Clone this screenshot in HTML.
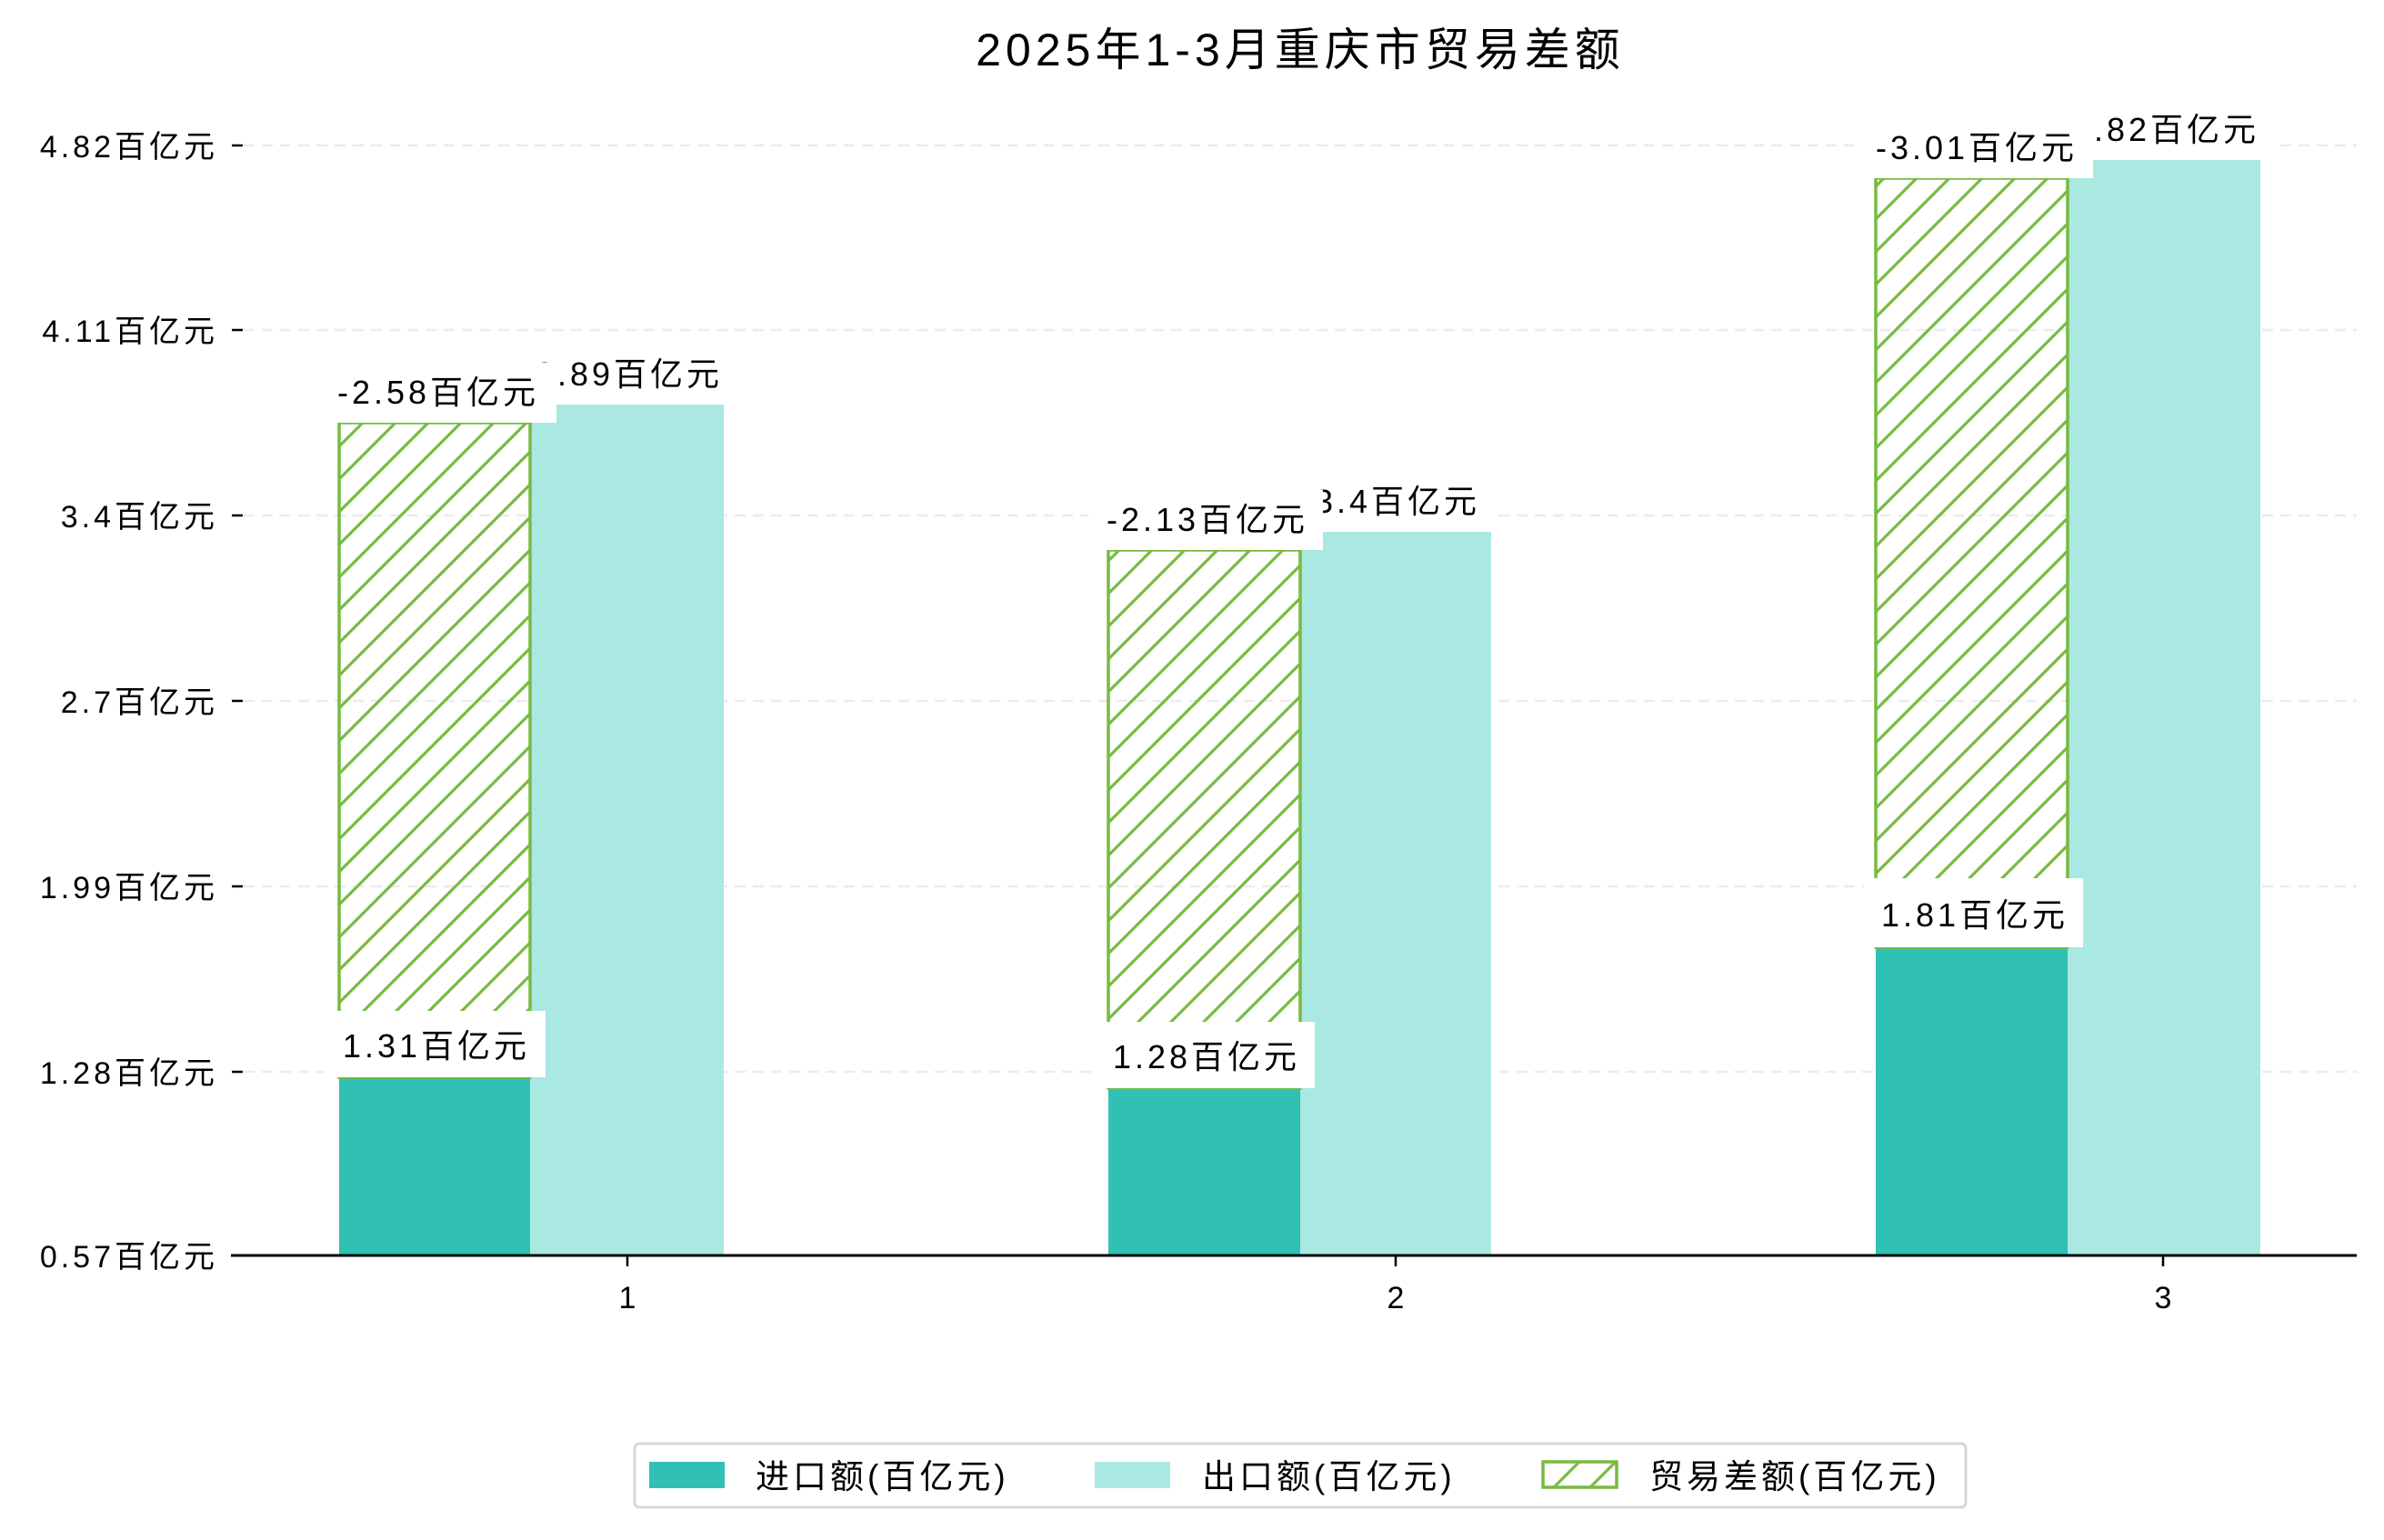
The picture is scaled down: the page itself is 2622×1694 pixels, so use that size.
<!DOCTYPE html>
<html><head><meta charset="utf-8"><style>
html,body{margin:0;padding:0;background:#fff;}
svg text{font-family:"Liberation Sans","Noto Sans CJK SC",sans-serif;fill:#000;}
</style></head><body>
<svg width="2622" height="1689" viewBox="0 0 2622 1689" xmlns="http://www.w3.org/2000/svg">
<defs>
<pattern id="h" patternUnits="userSpaceOnUse" width="36" height="36">
<path d="M-9,9 L9,-9 M0,36 L36,0 M27,45 L45,27" stroke="#77bb41" stroke-width="3.2"/>
</pattern>
<pattern id="h2" patternUnits="userSpaceOnUse" width="40" height="40" x="1697" y="1608">
<path d="M-10,10 L10,-10 M0,40 L40,0 M30,50 L50,30" stroke="#77bb41" stroke-width="3.2"/>
</pattern>
</defs>
<rect width="2622" height="1689" fill="#fff"/>
<text x="1430" y="72" font-size="50" text-anchor="middle" letter-spacing="5">2025年1-3月重庆市贸易差额</text>
<g stroke="#ececec" stroke-width="2.5" stroke-dasharray="12,8">
<line x1="268" y1="160" x2="2592" y2="160"/>
<line x1="268" y1="363" x2="2592" y2="363"/>
<line x1="268" y1="567" x2="2592" y2="567"/>
<line x1="268" y1="771" x2="2592" y2="771"/>
<line x1="268" y1="975" x2="2592" y2="975"/>
<line x1="268" y1="1179" x2="2592" y2="1179"/>
</g>
<g stroke="#000" stroke-width="2.5">
<line x1="255" y1="160" x2="267" y2="160"/>
<line x1="255" y1="363" x2="267" y2="363"/>
<line x1="255" y1="567" x2="267" y2="567"/>
<line x1="255" y1="771" x2="267" y2="771"/>
<line x1="255" y1="975" x2="267" y2="975"/>
<line x1="255" y1="1179" x2="267" y2="1179"/>
<line x1="255" y1="1381" x2="267" y2="1381"/>
</g>
<g font-size="34" text-anchor="end" letter-spacing="4">
<text x="240" y="173">4.82百亿元</text>
<text x="240" y="376">4.11百亿元</text>
<text x="240" y="580">3.4百亿元</text>
<text x="240" y="784">2.7百亿元</text>
<text x="240" y="988">1.99百亿元</text>
<text x="240" y="1192">1.28百亿元</text>
<text x="240" y="1394">0.57百亿元</text>
</g>
<rect x="373" y="1185" width="210" height="196" fill="#30c0b4"/>
<rect x="583" y="445" width="213" height="936" fill="#aae8e2"/>
<rect x="373" y="465" width="210" height="720" fill="url(#h)" stroke="#77bb41" stroke-width="3.5"/>
<rect x="1219" y="1197" width="211" height="184" fill="#30c0b4"/>
<rect x="1430" y="585" width="210" height="796" fill="#aae8e2"/>
<rect x="1219" y="605" width="211" height="592" fill="url(#h)" stroke="#77bb41" stroke-width="3.5"/>
<rect x="2063" y="1042" width="211" height="339" fill="#30c0b4"/>
<rect x="2274" y="176" width="212" height="1205" fill="#aae8e2"/>
<rect x="2063" y="196" width="211" height="846" fill="url(#h)" stroke="#77bb41" stroke-width="3.5"/>
<g font-size="36" text-anchor="middle" letter-spacing="4">
<rect x="356" y="1112" width="244" height="73" fill="#fff"/><text x="480" y="1163">1.31百亿元</text>
<rect x="568" y="377" width="244" height="68" fill="#fff"/><text x="692" y="424">3.89百亿元</text>
<rect x="348" y="399" width="264" height="66" fill="#fff"/><text x="482" y="444">-2.58百亿元</text>
<rect x="1204" y="1124" width="242" height="73" fill="#fff"/><text x="1327" y="1175">1.28百亿元</text>
<rect x="1423" y="517" width="224" height="68" fill="#fff"/><text x="1537" y="564">3.4百亿元</text>
<rect x="1197" y="539" width="258" height="66" fill="#fff"/><text x="1328" y="584">-2.13百亿元</text>
<rect x="2050" y="966" width="241" height="76" fill="#fff"/><text x="2172" y="1019">1.81百亿元</text>
<rect x="2258" y="108" width="244" height="68" fill="#fff"/><text x="2382" y="155">4.82百亿元</text>
<rect x="2043" y="130" width="259" height="66" fill="#fff"/><text x="2174" y="175">-3.01百亿元</text>
</g>
<line x1="254" y1="1381" x2="2592" y2="1381" stroke="#000" stroke-width="3"/>
<g stroke="#000" stroke-width="2.5">
<line x1="690" y1="1381" x2="690" y2="1393"/>
<line x1="1535" y1="1381" x2="1535" y2="1393"/>
<line x1="2379" y1="1381" x2="2379" y2="1393"/>
</g>
<g font-size="34" text-anchor="middle">
<text x="690" y="1439">1</text>
<text x="1535" y="1439">2</text>
<text x="2379" y="1439">3</text>
</g>
<rect x="698" y="1588" width="1464" height="70" rx="5" fill="#fff" stroke="#d6d6d6" stroke-width="3"/>
<rect x="714" y="1608" width="83" height="29" fill="#30c0b4"/>
<rect x="1204" y="1608" width="83" height="29" fill="#aae8e2"/>
<rect x="1697" y="1608" width="81" height="28" fill="url(#h2)" stroke="#77bb41" stroke-width="3.5"/>
<g font-size="37" letter-spacing="4">
<text x="831" y="1637">进口额(百亿元)</text>
<text x="1322" y="1637">出口额(百亿元)</text>
<text x="1814" y="1637">贸易差额(百亿元)</text>
</g>
</svg>
</body></html>
